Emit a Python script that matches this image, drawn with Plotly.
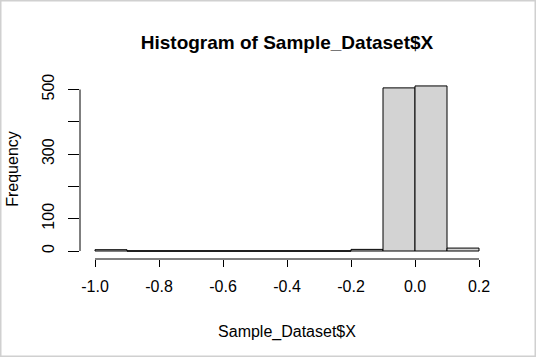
import plotly.graph_objects as go

# Data
bin_edges = [-1.0, -0.9, -0.8, -0.7, -0.6, -0.5, -0.4, -0.3, -0.2, -0.1, 0.0, 0.1, 0.2]
counts = [4, 0, 0, 0, 0, 0, 0, 0, 5, 505, 511, 9]
x_tick_vals = [-1.0, -0.8, -0.6, -0.4, -0.2, 0.0, 0.2]
x_tick_text = ["-1.0", "-0.8", "-0.6", "-0.4", "-0.2", "0.0", "0.2"]
y_tick_vals = [0, 100, 200, 300, 400, 500]
y_tick_text = ["0", "100", "", "300", "", "500"]

W, H = 536, 357
L, R, T, B = 80, 42, 79, 98  # plot area: x 80..494, y 79..259
pw, ph = W - L - R, H - T - B

centers = [(bin_edges[i] + bin_edges[i + 1]) / 2 for i in range(len(counts))]
widths = [bin_edges[i + 1] - bin_edges[i] for i in range(len(counts))]

kx = 320.0
xmin = bin_edges[0] - 15 / kx
xmax = xmin + pw / kx
ky = 161.5 / 500
ymin = -(T + ph - 251) / ky
ymax = ymin + ph / ky

font = "Liberation Sans, Arial, Helvetica, sans-serif"

fig = go.Figure()
fig.add_trace(go.Bar(
    x=centers, y=counts, width=widths,
    marker=dict(color="#D3D3D3", line=dict(color="black", width=1)),
    hoverinfo="skip",
))

# zero-count bins: R still draws their outline along the baseline
zx, zy = [], []
for i, c in enumerate(counts):
    if c == 0:
        zx += [bin_edges[i], bin_edges[i + 1], None]
        zy += [0, 0, None]
fig.add_trace(go.Scatter(x=zx, y=zy, mode="lines",
                         line=dict(color="black", width=1), hoverinfo="skip"))

shapes = []
shapes.append(dict(type="line", xref="x", yref="paper",
                   x0=x_tick_vals[0], x1=x_tick_vals[-1], y0=0, y1=0,
                   line=dict(color="black", width=1)))
shapes.append(dict(type="line", xref="paper", yref="y",
                   x0=0, x1=0, y0=y_tick_vals[0], y1=y_tick_vals[-1],
                   line=dict(color="black", width=1)))
shapes.append(dict(type="rect", xref="paper", yref="paper",
                   x0=(0.75 - L) / pw, x1=(W - 0.75 - L) / pw,
                   y0=(T + ph - (H - 0.75)) / ph, y1=(T + ph - 0.75) / ph,
                   line=dict(color="#D0D0D0", width=1.5)))

fig.update_layout(
    width=W, height=H,
    margin=dict(l=L, r=R, t=T, b=B, autoexpand=False),
    paper_bgcolor="white", plot_bgcolor="white",
    showlegend=False,
    bargap=0,
    font=dict(family=font, size=16, color="black"),
    title=dict(text="<b>Histogram of Sample_Dataset$X</b>",
               x=(L + pw / 2) / W, xanchor="center",
               y=1 - 42 / H, yanchor="middle",
               font=dict(size=19, family=font, color="black")),
    xaxis=dict(range=[xmin, xmax], showgrid=False, zeroline=False, showline=False,
               automargin=False,
               tickmode="array", tickvals=x_tick_vals, ticktext=x_tick_text,
               ticks="outside", ticklen=7, tickcolor="black", tickwidth=1,
               ticklabelstandoff=6, tickfont=dict(size=16),
               title=dict(text="Sample_Dataset$X", standoff=31, font=dict(size=16))),
    yaxis=dict(range=[ymin, ymax], showgrid=False, zeroline=False, showline=False,
               automargin=False,
               tickmode="array", tickvals=y_tick_vals, ticktext=y_tick_text,
               ticks="outside", ticklen=11, tickcolor="black", tickwidth=1,
               tickangle=-90, ticklabelstandoff=8, tickfont=dict(size=16),
               title=dict(text="Frequency", standoff=16, font=dict(size=16))),
    shapes=shapes,
)
fig.write_html("out.html",
               config={"displayModeBar": False, "staticPlot": True},
               post_script="document.body.style.margin='0';document.body.style.overflow='hidden';")
